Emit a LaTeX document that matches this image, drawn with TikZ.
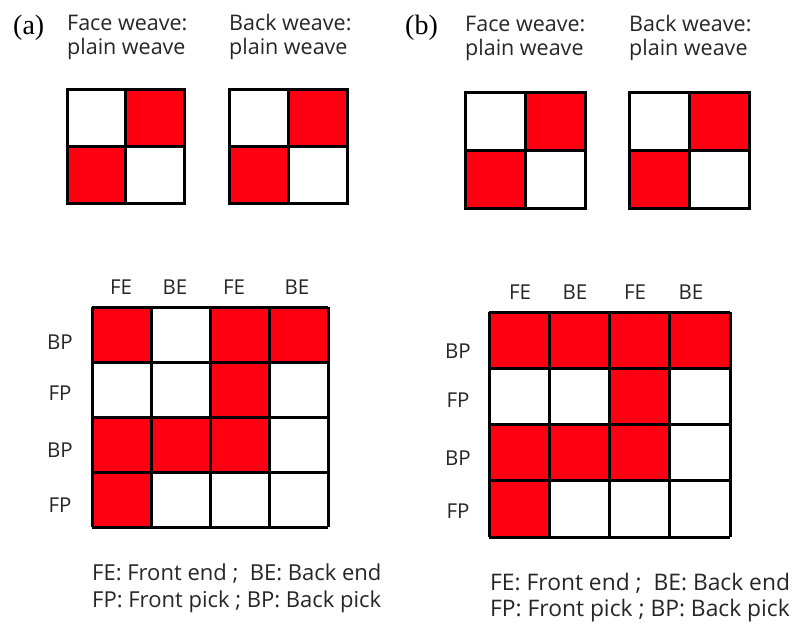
\documentclass[tikz,border=0pt]{standalone}
\usepackage{fontspec}
\setmainfont{Open Sans}
\newfontfamily\panelfont{Liberation Serif}
\definecolor{weavered}{RGB}{255,0,18}
\begin{document}
\begin{tikzpicture}[x=1pt,y=-1pt,
  gridline/.style={line width=3pt, draw=black},
  cellfill/.style={fill=weavered},
  panel/.style={font=\panelfont\fontsize{28}{32}\selectfont, anchor=base west, inner sep=0pt},
  title/.style={font=\fontsize{21.5}{24}\selectfont, align=left, anchor=base west, inner sep=0pt, text=black!85},
  axislabel/.style={font=\fontsize{20.5}{22}\selectfont, anchor=base, inner sep=0pt, text=black!85},
  legend/.style={font=\fontsize{22}{26.5}\selectfont, align=left, anchor=base west, inner sep=0pt, text=black!85}]
\path[use as bounding box, fill=white] (0,0) rectangle (793,625);

% ---------- panel labels and titles (base = last line) ----------
\node[panel] (pa) at (13,34) {(a)};
\node[panel] (pb) at (405,34) {(b)};
\node[title] (ta1) at (67,54) {Face weave:\\plain weave};
\node[title] (ta2) at (229,54) {Back weave:\\plain weave};
\node[title] (tb1) at (465,55) {Face weave:\\plain weave};
\node[title] (tb2) at (629,55) {Back weave:\\plain weave};

% ---------- small plain weave grids ----------
\newcommand\plainweave[4]{%
  \fill[cellfill] ({(#1+#3)/2},#2) rectangle (#3,{(#2+#4)/2});
  \fill[cellfill] (#1,{(#2+#4)/2}) rectangle ({(#1+#3)/2},#4);
  \draw[gridline] (#1,#2) rectangle (#3,#4);
  \draw[gridline] ({(#1+#3)/2},#2) -- ({(#1+#3)/2},#4);
  \draw[gridline] (#1,{(#2+#4)/2}) -- (#3,{(#2+#4)/2});
}
\plainweave{67}{89}{184}{203}
\plainweave{229}{89}{347}{203}
\plainweave{465}{92}{585}{208}
\plainweave{629}{92}{749}{208}

% ---------- big grid (a) ----------
\begin{scope}[shift={(92,307)}]
  \foreach \c/\r in {0/0,2/0,3/0,2/1,0/2,1/2,2/2,0/3}
    \fill[cellfill] ({\c*59},{\r*55}) rectangle ({(\c+1)*59},{(\r+1)*55});
  \foreach \i in {0,...,4} {
    \draw[gridline] ({\i*59},0) -- ({\i*59},220);
    \draw[gridline] (0,{\i*55}) -- (236,{\i*55});
  }
\end{scope}
\node[axislabel] (ca1) at (121,294) {FE};
\node[axislabel] (ca2) at (175,294) {BE};
\node[axislabel] (ca3) at (234,294) {FE};
\node[axislabel] (ca4) at (297,294) {BE};
\node[axislabel] (ra1) at (60,349) {BP};
\node[axislabel] (ra2) at (60,400) {FP};
\node[axislabel] (ra3) at (60,457) {BP};
\node[axislabel] (ra4) at (60,512) {FP};

% ---------- big grid (b) ----------
\begin{scope}[shift={(489,312)}]
  \foreach \c/\r in {0/0,1/0,2/0,3/0,2/1,0/2,1/2,2/2,0/3}
    \fill[cellfill] ({\c*60.25},{\r*56.25}) rectangle ({(\c+1)*60.25},{(\r+1)*56.25});
  \foreach \i in {0,...,4} {
    \draw[gridline] ({\i*60.25},0) -- ({\i*60.25},225);
    \draw[gridline] (0,{\i*56.25}) -- (241,{\i*56.25});
  }
\end{scope}
\node[axislabel] (cb1) at (520,299) {FE};
\node[axislabel] (cb2) at (575,299) {BE};
\node[axislabel] (cb3) at (635,299) {FE};
\node[axislabel] (cb4) at (691,299) {BE};
\node[axislabel] (rb1) at (458,358) {BP};
\node[axislabel] (rb2) at (458,407) {FP};
\node[axislabel] (rb3) at (458,465) {BP};
\node[axislabel] (rb4) at (458,518) {FP};

% ---------- legends (base = last line) ----------
\node[legend] (la) at (92,607) {FE: Front end ;\ \ BE: Back end\\FP: Front pick ; BP: Back pick};
\node[legend, font=\fontsize{22.8}{26}\selectfont] (lb) at (490,616) {FE: Front end ;\ \ BE: Back end\\FP: Front pick ; BP: Back pick};
\end{tikzpicture}
\end{document}
